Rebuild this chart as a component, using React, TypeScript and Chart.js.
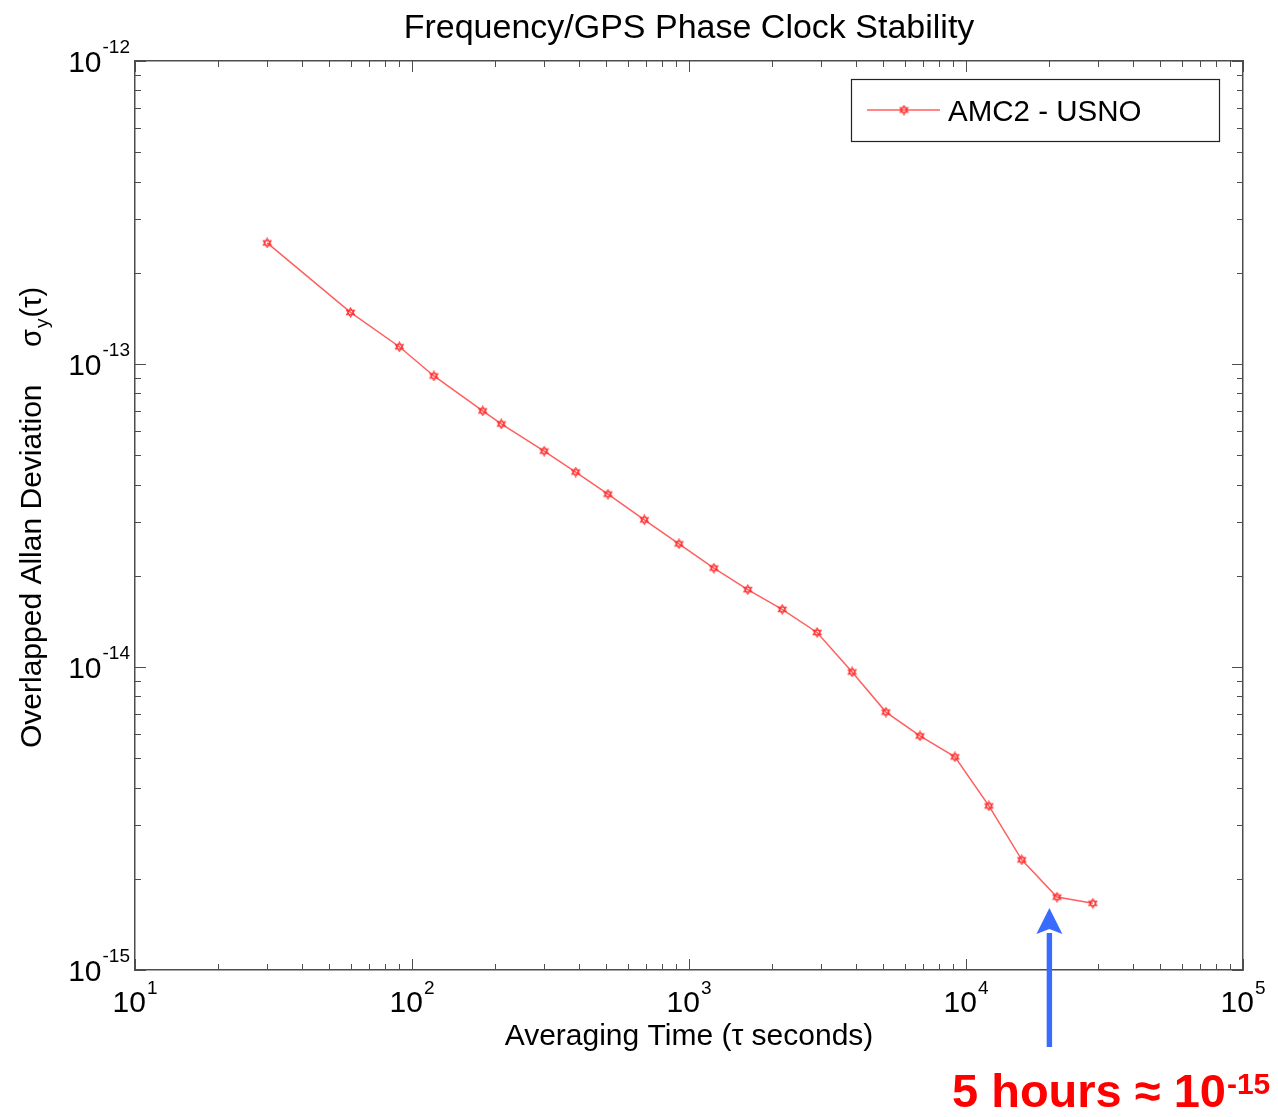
import React, { useEffect, useRef } from "react";
import { Chart, registerables } from "chart.js";

Chart.register(...registerables);

// ---- data ----
const tauSeconds = [30, 60, 90, 120, 180, 210, 300, 390, 510, 690, 920, 1230, 1630, 2170, 2900, 3880, 5140, 6820, 9120, 12100, 15900, 21300, 28700];
const allanDeviation = [
  2.51e-13, 1.48e-13, 1.14e-13, 9.13e-14, 7.0e-14, 6.34e-14, 5.16e-14, 4.4e-14, 3.72e-14, 3.06e-14, 2.55e-14, 2.12e-14,
  1.8e-14, 1.55e-14, 1.3e-14, 9.63e-15, 7.1e-15, 5.92e-15, 5.05e-15, 3.48e-15, 2.31e-15, 1.74e-15, 1.66e-15,
];
const seriesLabel = "AMC2 - USNO";
const xDecadeExponents = [1, 2, 3, 4, 5];
const yDecadeExponents = [-15, -14, -13, -12];
const chartTitle = "Frequency/GPS Phase Clock Stability";
const xAxisTitle = "Averaging Time (\u03c4 seconds)";
const yAxisTitle = "Overlapped Allan Deviation";
const yAxisSymbol = "\u03c3";
const yAxisSub = "y";
const yAxisArg = "(\u03c4)";
const annotationTau = 20000;
const annotationLabel = "5 hours \u2248 10";
const annotationExponent = "-15";

// ---- styles ----
const FONT = "'Liberation Sans', Arial, Helvetica, sans-serif";
const AXIS_COLOR = "#4d4d4d";
const LINE_COLOR = "rgba(255, 95, 95, 1)";
const MARKER_COLOR = "rgb(255, 45, 45)";
const ARROW_COLOR = "#3a6bff";
const NOTE_COLOR = "#ff0000";

function makeHexagram(size: number): HTMLCanvasElement {
  const c = document.createElement("canvas");
  c.width = size;
  c.height = size;
  const g = c.getContext("2d") as CanvasRenderingContext2D;
  const cx = size / 2;
  const cy = size / 2;
  const r = size / 2 - 1;
  g.strokeStyle = MARKER_COLOR;
  g.lineWidth = 1.1;
  for (const rot of [-Math.PI / 2, Math.PI / 2]) {
    g.beginPath();
    for (let k = 0; k < 3; k++) {
      const ang = rot + (k * 2 * Math.PI) / 3;
      const px = cx + r * Math.cos(ang);
      const py = cy + r * Math.sin(ang);
      if (k === 0) g.moveTo(px, py);
      else g.lineTo(px, py);
    }
    g.closePath();
    g.stroke();
  }
  return c;
}

function drawPower(
  ctx: CanvasRenderingContext2D,
  base: string,
  exp: string,
  x: number,
  baseline: number,
  supBaseline: number,
  baseFont: string,
  supFont: string,
  align: "center" | "right" | "left"
) {
  ctx.font = baseFont;
  const wb = ctx.measureText(base).width;
  ctx.font = supFont;
  const ws = ctx.measureText(exp).width;
  const total = wb + ws + 1;
  let x0 = x;
  if (align === "center") x0 = x - total / 2;
  else if (align === "right") x0 = x - total;
  ctx.textAlign = "left";
  ctx.textBaseline = "alphabetic";
  ctx.font = baseFont;
  ctx.fillText(base, x0, baseline);
  ctx.font = supFont;
  ctx.fillText(exp, x0 + wb + 1, supBaseline);
}

const decorPlugin = {
  id: "decor",
  afterDraw(chart: any) {
    const ctx: CanvasRenderingContext2D = chart.ctx;
    const a = chart.chartArea;
    const xs = chart.scales.x;
    const ys = chart.scales.y;
    const marker: HTMLCanvasElement = chart.$hexagram;
    ctx.save();

    // tick marks (inward, all four sides)
    ctx.strokeStyle = AXIS_COLOR;
    ctx.lineWidth = 1;
    const seg = (x1: number, y1: number, x2: number, y2: number) => {
      ctx.beginPath();
      ctx.moveTo(x1, y1);
      ctx.lineTo(x2, y2);
      ctx.stroke();
    };
    const xE0 = xDecadeExponents[0];
    const xE1 = xDecadeExponents[xDecadeExponents.length - 1];
    for (let e = xE0; e <= xE1; e++) {
      for (let m = 1; m <= 9; m++) {
        const v = m * Math.pow(10, e);
        if (v > xs.max * 1.0001) continue;
        const p = Math.round(xs.getPixelForValue(v)) + 0.5;
        const len = m === 1 ? 11 : 6;
        seg(p, a.bottom, p, a.bottom - len);
        seg(p, a.top, p, a.top + len);
      }
    }
    const yE0 = yDecadeExponents[0];
    const yE1 = yDecadeExponents[yDecadeExponents.length - 1];
    for (let e = yE0; e <= yE1; e++) {
      for (let m = 1; m <= 9; m++) {
        const v = m * Math.pow(10, e);
        if (v > ys.max * 1.0001) continue;
        const p = Math.round(ys.getPixelForValue(v)) + 0.5;
        const len = m === 1 ? 11 : 6;
        seg(a.left, p, a.left + len, p);
        seg(a.right, p, a.right - len, p);
      }
    }

    // tick labels
    ctx.fillStyle = "#000";
    const baseFont = `30px ${FONT}`;
    const supFont = `19px ${FONT}`;
    for (const e of xDecadeExponents) {
      const px = xs.getPixelForValue(Math.pow(10, e));
      drawPower(ctx, "10", String(e), px, a.bottom + 42, a.bottom + 24, baseFont, supFont, "center");
    }
    for (const e of yDecadeExponents) {
      const py = ys.getPixelForValue(Math.pow(10, e));
      drawPower(ctx, "10", String(e), a.left - 5, py + 11, py - 8, baseFont, supFont, "right");
    }

    // title
    const cx = (a.left + a.right) / 2;
    ctx.font = `34px ${FONT}`;
    ctx.textAlign = "center";
    ctx.textBaseline = "alphabetic";
    ctx.fillText(chartTitle, cx, 38);

    // x title
    ctx.font = `30px ${FONT}`;
    ctx.fillText(xAxisTitle, cx, a.bottom + 75);

    // y title (rotated)
    ctx.save();
    ctx.translate(41, 748);
    ctx.rotate(-Math.PI / 2);
    ctx.textAlign = "left";
    ctx.font = `30px ${FONT}`;
    ctx.fillText(yAxisTitle, 0, 0);
    ctx.restore();
    ctx.save();
    ctx.translate(41, 347);
    ctx.rotate(-Math.PI / 2);
    ctx.textAlign = "left";
    ctx.font = `29px ${FONT}`;
    ctx.fillText(yAxisSymbol, 0, 0);
    const ws = ctx.measureText(yAxisSymbol).width;
    ctx.font = `19px ${FONT}`;
    ctx.fillText(yAxisSub, ws + 1, 7);
    const wy = ctx.measureText(yAxisSub).width;
    ctx.font = `29px ${FONT}`;
    ctx.fillText(yAxisArg, ws + wy + 2, 0);
    ctx.restore();

    // legend box
    const lx0 = a.right - 392;
    const ly0 = a.top + 18;
    const lw = 368;
    const lh = 62;
    ctx.fillStyle = "#fff";
    ctx.fillRect(lx0, ly0, lw, lh);
    ctx.strokeStyle = "#222";
    ctx.lineWidth = 1.2;
    ctx.strokeRect(lx0 + 0.5, ly0 + 0.5, lw, lh);
    const ly = ly0 + 31;
    ctx.strokeStyle = LINE_COLOR;
    ctx.lineWidth = 1.5;
    seg(lx0 + 16, ly, lx0 + 89, ly);
    if (marker) ctx.drawImage(marker, lx0 + 53 - marker.width / 2, ly - marker.height / 2);
    ctx.fillStyle = "#000";
    ctx.font = `29.5px ${FONT}`;
    ctx.textAlign = "left";
    ctx.fillText(seriesLabel, lx0 + 97, ly + 11);

    // annotation arrow
    const ax = xs.getPixelForValue(annotationTau);
    const tipY = a.bottom - 62;
    const headBase = a.bottom - 36;
    const tailY = a.bottom + 77;
    ctx.fillStyle = ARROW_COLOR;
    ctx.fillRect(ax - 2.7, headBase - 1, 5.4, tailY - headBase + 1);
    ctx.beginPath();
    ctx.moveTo(ax, tipY);
    ctx.lineTo(ax + 13, headBase);
    ctx.lineTo(ax, headBase - 5);
    ctx.lineTo(ax - 13, headBase);
    ctx.closePath();
    ctx.fill();

    // annotation text
    ctx.fillStyle = NOTE_COLOR;
    drawPower(
      ctx,
      annotationLabel,
      annotationExponent,
      952,
      a.bottom + 137,
      a.bottom + 124,
      `bold 47px ${FONT}`,
      `bold 30px ${FONT}`,
      "left"
    );

    ctx.restore();
  },
};

export default function App() {
  const ref = useRef<HTMLCanvasElement | null>(null);

  useEffect(() => {
    document.body.style.margin = "0";
    document.body.style.overflow = "hidden";
    const canvas = ref.current;
    if (!canvas) return;
    const hexagram = makeHexagram(11);
    const axisBase = (position: string, min: number, max: number) => ({
      type: "logarithmic" as const,
      position,
      min,
      max,
      display: true,
      ticks: { display: false },
      grid: { display: false, drawTicks: false },
      border: { display: true, color: AXIS_COLOR, width: 1.5 },
      title: { display: false },
    });
    const chart = new Chart(canvas, {
      type: "line",
      data: {
        datasets: [
          {
            label: seriesLabel,
            data: tauSeconds.map((t, i) => ({ x: t, y: allanDeviation[i] })),
            borderColor: LINE_COLOR,
            backgroundColor: LINE_COLOR,
            borderWidth: 1.5,
            pointStyle: hexagram as any,
            pointRadius: 5,
            pointHoverRadius: 5,
            tension: 0,
            fill: false,
          },
        ],
      },
      options: {
        responsive: false,
        animation: false,
        devicePixelRatio: 1,
        layout: { padding: { left: 135, top: 61, right: 35, bottom: 147 } },
        scales: {
          x: axisBase("bottom", 10, 1e5) as any,
          y: axisBase("left", 1e-15, 1e-12) as any,
          x2: axisBase("top", 10, 1e5) as any,
          y2: axisBase("right", 1e-15, 1e-12) as any,
        },
        plugins: {
          legend: { display: false },
          tooltip: { enabled: false },
          title: { display: false },
        },
      },
      plugins: [decorPlugin],
    });
    (chart as any).$hexagram = hexagram;
    chart.draw();
    return () => chart.destroy();
  }, []);

  return (
    <div style={{ width: 1278, height: 1117, background: "#fff" }}>
      <canvas ref={ref} width={1278} height={1117} style={{ width: 1278, height: 1117, display: "block" }} />
    </div>
  );
}
